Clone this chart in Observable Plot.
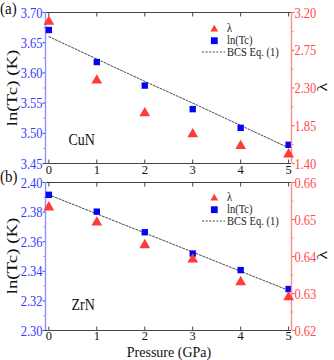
<!DOCTYPE html>
<html><head><meta charset="utf-8">
<script src="https://cdn.jsdelivr.net/npm/d3@7"></script>
<script src="https://cdn.jsdelivr.net/npm/@observablehq/plot@0.6"></script>
<style>
body{margin:0;background:#fff;font-family:"Liberation Serif",serif;}
#root{position:relative;width:334px;height:360px;overflow:hidden;}
.panel{position:relative;width:334px;}
.panel svg{position:absolute;left:0;top:0;}
.t{position:absolute;white-space:nowrap;font-family:"Liberation Serif",serif;line-height:1;color:#111;}
</style></head><body><div id="root"></div>
<script>
// ---- data ----
const pressure = [0, 1, 2, 3, 4, 5];
const cuLnTc   = [3.671, 3.618, 3.579, 3.540, 3.509, 3.481];
const cuLambda = [3.09, 2.39, 2.00, 1.75, 1.61, 1.51];
const cuBCS    = [3.660, 3.623, 3.586, 3.550, 3.513, 3.476];
const zrLnTc   = [2.3917, 2.3803, 2.3664, 2.3520, 2.3408, 2.3280];
const zrLambda = [0.6533, 0.6492, 0.6431, 0.6392, 0.6331, 0.6290];
const zrBCS    = [2.3917, 2.3788, 2.3659, 2.3530, 2.3400, 2.3271];
const xTicks      = [0, 1, 2, 3, 4, 5];
const cuLnTicks   = [3.45, 3.50, 3.55, 3.60, 3.65, 3.70];
const cuLamTicks  = [1.40, 1.85, 2.30, 2.75, 3.20];
const zrLnTicks   = [2.30, 2.32, 2.34, 2.36, 2.38, 2.40];
const zrLamTicks  = [0.62, 0.63, 0.64, 0.65, 0.66];
const legendLabels = ["λ", "ln(Tc)", "BCS Eq. (1)"];

const BLUE_TXT = "#3838ff", BLUE_LINE = "#8f8fff";
const RED_TXT = "#ff4a4a", RED_LINE = "#ff8c8c";
const SQ = "#0505f5", TRI = "#ff3a3a";
const XDOM = [-0.07, 5.06];
const STRETCH = 1.25;

function mids(t){ return d3.pairs(t).map(([a,b]) => (a+b)/2); }

function addText(parent, txt, css){
  const d = document.createElement("div");
  d.className = "t"; d.textContent = txt;
  Object.assign(d.style, css);
  parent.appendChild(d);
  return d;
}

function panel(o){
  const W = 334, H = o.height;
  const div = document.createElement("div");
  div.className = "panel"; div.style.height = H + "px";
  document.getElementById("root").appendChild(div);
  const rows = pressure.map((p,i) => ({p, ln:o.ln[i], bcs:o.bcs[i], lam:o.lam[i]}));
  const common = {width:W, height:H, marginTop:o.mt, marginBottom:o.mb, marginLeft:45, marginRight:43,
    style:{background:"transparent", fontFamily:"Liberation Serif, serif", fontSize:"12.5px", overflow:"visible"}};
  const lnDom = [o.lnTicks[0], o.lnTicks[o.lnTicks.length-1]];
  const lamDom = [o.lamTicks[0], o.lamTicks[o.lamTicks.length-1]];
  const svg1 = Plot.plot({...common,
    x:{domain:XDOM}, y:{domain:lnDom},
    marks:[
      Plot.ruleY(lnDom, {stroke:"#444", strokeWidth:1}),
      Plot.axisX({ticks:xTicks, anchor:"bottom", tickSize:0, tickPadding:o.xPad, tickFormat:d=>String(d), color:"#111", label:null}),
      Plot.axisX({ticks:xTicks, anchor:"bottom", tickSize:-3.5, tickFormat:()=>"", color:"#444", label:null}),
      Plot.axisX({ticks:xTicks, anchor:"top", tickSize:-3.5, tickFormat:()=>"", color:"#444", label:null}),
      Plot.axisY({ticks:o.lnTicks, anchor:"left", tickSize:2.5, tickPadding:0.5, tickFormat:d3.format(o.lnFmt), color:BLUE_TXT, label:null}),
      Plot.axisY({ticks:mids(o.lnTicks), anchor:"left", tickSize:1.5, tickFormat:()=>"", color:BLUE_LINE, label:null}),
      Plot.ruleX([XDOM[0]], {stroke:BLUE_LINE, strokeWidth:1.4}),
      Plot.line(rows, {x:"p", y:"bcs", stroke:"#333", strokeWidth:0.9, strokeDasharray:"2,1.6"}),
      Plot.dot(rows, {x:"p", y:"ln", symbol:"square", r:3.6, fill:SQ, stroke:"none"}),
      Plot.text([o.name], {frameAnchor:"bottom-left", dx:o.nameDx, dy:o.nameDy, textAnchor:"start", fontSize:14, fill:"#111"})
    ]});
  const svg2 = Plot.plot({...common,
    x:{domain:XDOM, axis:null}, y:{domain:lamDom},
    marks:[
      Plot.ruleX([XDOM[1]], {stroke:RED_LINE, strokeWidth:1.4}),
      Plot.axisY({ticks:o.lamTicks, anchor:"right", tickSize:2.5, tickPadding:0.5, tickFormat:d3.format(o.lamFmt), color:RED_TXT, label:null}),
      Plot.axisY({ticks:mids(o.lamTicks), anchor:"right", tickSize:1.5, tickFormat:()=>"", color:RED_LINE, label:null}),
      Plot.dot(rows, {x:"p", y:"lam", symbol:"triangle", r:4.0, fill:TRI, stroke:"none"})
    ]});
  div.appendChild(svg1); div.appendChild(svg2);
  // vertical stretch of y tick labels and compound name, as in the reference
  for (const svg of [svg1, svg2]) {
    svg.querySelectorAll('g[aria-label="y-axis tick label"] text, g[aria-label="text"] text').forEach(el => {
      if (!el.textContent) return;
      const b = el.getBBox();
      const cx = b.x + b.width/2, cy = b.y + b.height/2;
      const prev = el.getAttribute("transform") || "";
      el.setAttribute("transform", `${prev} translate(${cx},${cy}) scale(1,${STRETCH}) translate(${-cx},${-cy})`);
    });
  }
  // panel label
  addText(div, o.tag, {left:"0px", top:o.tagTop+"px", fontSize:"15px", transform:`scale(1,1.15)`, transformOrigin:"0 50%"});
  // left title
  const plotMid = o.mt + (H - o.mt - o.mb)/2;
  const lt = addText(div, "ln(Tc) (K)", {left:"12px", top:plotMid+"px", fontSize:"14.5px"});
  lt.style.transform = `translate(-50%,-50%) rotate(-90deg) scale(${STRETCH+0.05},1)`;
  const rt = addText(div, "λ", {left:"322px", top:(plotMid-1)+"px", fontSize:"14.5px"});
  rt.style.transform = `translate(-50%,-50%) rotate(-90deg) scale(${STRETCH},1)`;
  // legend
  const ly = o.legendY;
  const leg = document.createElementNS("http://www.w3.org/2000/svg","svg");
  leg.setAttribute("width", 30); leg.setAttribute("height", 40);
  Object.assign(leg.style, {position:"absolute", left:"200px", top:(ly-13)+"px"});
  leg.innerHTML =
    `<path d="M14.3,${13-4.2} L18.2,${13+2.6} L10.4,${13+2.6} Z" fill="${TRI}"/>` +
    `<rect x="${14.3-3.4}" y="${24.7-3.4}" width="6.8" height="6.8" fill="${SQ}"/>` +
    `<line x1="2" x2="25" y1="36" y2="36" stroke="#333" stroke-width="0.9" stroke-dasharray="2,1.6"/>`;
  div.appendChild(leg);
  const offs = [0, 12.2, 23.5];
  legendLabels.forEach((s,i) => {
    const e = addText(div, s, {left:"227px", top:(ly + offs[i])+"px", fontSize:"10.5px", color:"#222"});
    e.style.transform = `translateY(-50%) scale(1,1.1)`;
    e.style.transformOrigin = "0 50%";
  });
}

panel({height:175, mt:12, mb:12, xPad:1.5, tag:"(a)", tagTop:1, name:"CuN", nameDx:23, nameDy:-20,
  ln:cuLnTc, lam:cuLambda, bcs:cuBCS, lnTicks:cuLnTicks, lamTicks:cuLamTicks, lnFmt:".2f", lamFmt:".2f", legendY:29});
panel({height:185, mt:7, mb:30, xPad:0.5, tag:"(b)", tagTop:-6, name:"ZrN", nameDx:26, nameDy:-22,
  ln:zrLnTc, lam:zrLambda, bcs:zrBCS, lnTicks:zrLnTicks, lamTicks:zrLamTicks, lnFmt:".2f", lamFmt:".2f", legendY:23});
const px = addText(document.getElementById("root"), "Pressure (GPa)", {left:"169px", top:"352.5px", fontSize:"14px"});
px.style.transform = `translate(-50%,-50%)`;
</script></body></html>
